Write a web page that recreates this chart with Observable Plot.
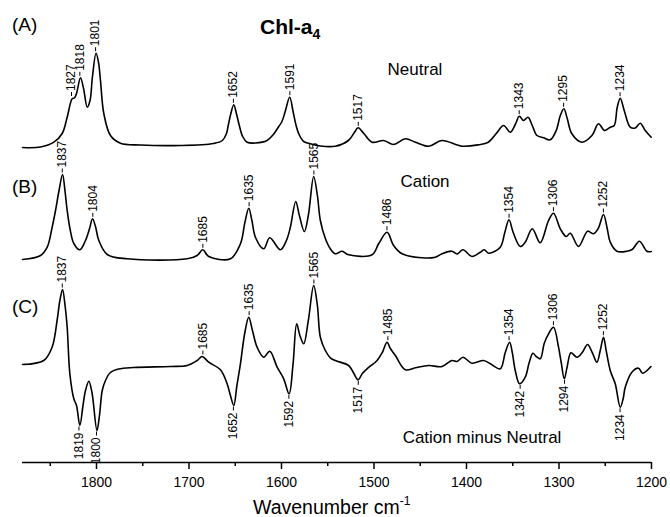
<!DOCTYPE html>
<html><head><meta charset="utf-8">
<script src="https://cdn.jsdelivr.net/npm/d3@7"></script>
<script src="https://cdn.jsdelivr.net/npm/@observablehq/plot@0.6"></script>
<style>body{margin:0;background:#fff} svg{display:block}</style>
</head><body><div id="chart"></div>
<script>
// [wavenumber cm-1, intensity (arb. units)]
const neutral = [[1880,-1],[1860.5,-0.5],[1846.1,4.3],[1837.1,13],[1831.7,29.3],[1826.3,47.7],[1823.8,48.5],[1821.6,53],[1817.3,68.7],[1814,58],[1810,39.3],[1807,46],[1804.4,69.5],[1800.5,93.3],[1797.8,84],[1795.7,66],[1792.1,33],[1784.9,11],[1774.1,3.3],[1752.5,1.5],[1709.2,1],[1673.6,3],[1663.9,6],[1659.5,13],[1657.6,21],[1655,32],[1651.6,41.7],[1648.5,32],[1645.6,21],[1642,10],[1637.2,4.3],[1628.2,3.5],[1615.6,6],[1608.8,12],[1603,20],[1599.5,25],[1596,35],[1591.1,49.3],[1587.5,35],[1584.5,22],[1581,12],[1576,5],[1568.8,2.7],[1558,0.5],[1541.8,0.3],[1527.7,6],[1521.2,14],[1517.2,18.7],[1511.2,13.3],[1502.1,4.3],[1489.6,6],[1478.8,2],[1466.1,7.7],[1455.3,4.3],[1440.9,0.3],[1426.5,6],[1404.9,0.3],[1386.9,1.7],[1376.4,4.3],[1367.8,13],[1359.9,21],[1352.7,14.3],[1347.3,22],[1342.9,30.3],[1338.3,26],[1333.5,29.3],[1328.9,21],[1323.8,11],[1316.7,8.7],[1309.5,6.7],[1303,16],[1298.6,31],[1294.7,37.7],[1291.1,28],[1286.1,12.7],[1275.2,4.3],[1264.4,11],[1257.3,22.7],[1250.8,16],[1244.6,19.3],[1240.3,21],[1237.1,39],[1233.8,48.3],[1229.5,36],[1223,19.3],[1217.6,18.5],[1212.2,23.3],[1206.8,16],[1200.3,9.3]];
const cation = [[1880,0],[1860.5,4],[1853.3,12.3],[1848,32],[1844.3,49],[1840.5,69],[1836.7,85],[1834,68],[1831.7,49],[1828.5,30],[1824.5,16],[1818,9.7],[1811.9,19],[1807.5,31],[1804.3,40.7],[1801.1,33],[1797.5,19],[1788.4,5],[1766.8,0.7],[1702,0.7],[1691.2,4],[1685.1,9.7],[1678.7,3],[1655.2,0.7],[1644.4,15.7],[1639.6,37],[1635.4,51.3],[1632,39],[1628.2,22.3],[1619.2,10.7],[1612.7,21.7],[1601.2,9.7],[1594.7,19],[1590.4,32.3],[1584.6,58],[1580.7,44],[1575.3,28],[1571,44],[1565.2,83],[1561.2,64],[1558,39],[1552.6,21],[1547.2,10.7],[1541.8,5.7],[1534.5,8.3],[1527.4,4.7],[1502.1,4.7],[1495,15.7],[1485.9,27.3],[1478.8,14],[1469.7,5.7],[1448.1,1.7],[1433.7,2.3],[1426.5,5.7],[1415.7,8.3],[1410.3,5.5],[1403.8,9.7],[1394.1,3],[1385.1,7.3],[1380.8,9.7],[1376.1,6.3],[1363.5,12.3],[1358.6,27],[1354.1,39.7],[1349.5,27],[1341.9,13],[1336.5,17.3],[1328.9,30.7],[1320.3,16.7],[1311.3,39],[1305.9,46.3],[1298.6,30.7],[1292.2,23],[1287.8,26.3],[1278.9,13],[1269.1,28.3],[1262.6,25.7],[1257.6,31],[1251.9,45],[1247.9,31],[1244.6,17.3],[1237.4,8.3],[1226.6,8.3],[1220.9,10],[1213,18.3],[1205,8.3],[1200.3,8]];
const difference = [[1880,1],[1857,5],[1848,18.3],[1842.6,45],[1839.6,65],[1836.7,76],[1834,60],[1831.7,38.3],[1828.8,-8.3],[1824.5,-33.3],[1821.6,-40],[1818,-60],[1814.6,-40],[1811.9,-25],[1808.3,-15.7],[1804.9,-27],[1799.5,-65],[1796.8,-50],[1793.8,-25],[1790.3,-15],[1785,-7],[1776,-3.5],[1760,-2],[1720,-1],[1702,0],[1691.2,5],[1685.8,9],[1678.7,3.3],[1666,-4.3],[1658.8,-18.3],[1655.2,-30],[1651.6,-40],[1648.2,-20],[1644.4,1.7],[1639.6,33],[1635.4,48.3],[1631.4,35],[1626.4,18.3],[1619.2,8.3],[1612.7,14.3],[1604.7,-1.7],[1597.6,-13.3],[1591.8,-28.3],[1587.5,1.7],[1583.6,41.7],[1580.1,30],[1576,21.7],[1571,45],[1565.2,80],[1561.2,60],[1558,28.3],[1552.6,15],[1547.2,7.7],[1541.8,5],[1527.4,0],[1522.3,-7],[1517.2,-14.3],[1512.6,-8],[1507.5,-3.3],[1496.7,5],[1491,13],[1485.9,23.3],[1482.3,17],[1476.9,10],[1466.1,-4.3],[1455.3,-2.3],[1440.9,0],[1426.5,-1],[1415.7,5],[1410.3,4],[1403.8,8.3],[1394.1,2.3],[1381.5,5],[1374.3,1.7],[1363.5,-3.3],[1358.1,13],[1353.4,23.3],[1350.5,13],[1347.3,-5],[1342.6,-18.3],[1336.5,-11.7],[1332.2,3],[1328.2,12.3],[1324.6,9],[1320.3,6.7],[1316,22],[1311.3,31.7],[1305.9,38.3],[1300.5,18.3],[1297.6,3],[1294.3,-13.3],[1291.1,-1],[1287.1,12.7],[1280.6,8.3],[1274.9,13],[1269.1,21],[1264.1,13],[1259,3.3],[1255.4,15],[1251.9,28.3],[1249,15],[1244.6,-5],[1239.2,-18.3],[1233.8,-41.7],[1230.6,-33],[1228.4,-21.7],[1221.2,-6.7],[1214,-2.7],[1209.7,-7.7],[1200.6,-1]];

const neutralPeaks = [1827,1818,1801,1652,1591,1517,1343,1295,1234];
const cationPeaks = [1837,1804,1685,1635,1565,1486,1354,1306,1252];
const differencePeaksUp = [1837,1685,1635,1565,1485,1354,1306,1252];
const differencePeaksDown = [1819,1800,1652,1592,1517,1342,1294,1234];

const xTicks = [1800,1700,1600,1500,1400,1300,1200];
const xMinorTicks = [1850,1750,1650,1550,1450,1350,1250];
const panelLetters = ["(A)","(B)","(C)"];
const panelNames = ["Neutral","Cation","Cation minus Neutral"];
const chartTitle = "Chl-a";
const chartTitleSub = "4";
const xLabel = "Wavenumber cm";
const xLabelSup = "-1";

// layout (vertical offsets of stacked traces)
const offsets = [316, 203, 97];
const traces = [neutral, cation, difference];

const lineData = traces.flatMap((t, i) => t.map(([w, v]) => ({w, y: v + offsets[i], s: i})));

function extreme(trace, w, dir) {
  let near = trace.filter(d => Math.abs(d[0] - w) <= 3.5);
  if (!near.length) near = [trace.reduce((a, b) => Math.abs(b[0]-w) < Math.abs(a[0]-w) ? b : a)];
  return dir > 0 ? d3.max(near, d => d[1]) : d3.min(near, d => d[1]);
}
function makeLabels(trace, peaks, i, dir) {
  return peaks.map(w => ({w, v: extreme(trace, w, dir) + offsets[i], dir, text: String(w)}));
}
const upLabels = [
  ...makeLabels(neutral, neutralPeaks, 0, 1),
  ...makeLabels(cation, cationPeaks, 1, 1),
  ...makeLabels(difference, differencePeaksUp, 2, 1)
];
const downLabels = makeLabels(difference, differencePeaksDown, 2, -1);
const allLabels = [...upLabels, ...downLabels];

const font = "'Liberation Sans', Arial, Helvetica, sans-serif";

const plot = Plot.plot({
  width: 670, height: 517,
  marginLeft: 22, marginRight: 19, marginTop: 0, marginBottom: 55,
  style: {fontFamily: font, fontSize: "14px", background: "#fff", color: "#000"},
  x: {domain: [1880, 1200], label: null},
  y: {domain: [0, 462], axis: null},
  marks: [
    Plot.line(lineData, {x: "w", y: "y", z: "s", curve: "catmull-rom", stroke: "#000", strokeWidth: 1.6}),
    Plot.ruleX(allLabels, {x: "w", y1: d => d.v + d.dir * 1.5, y2: d => d.v + d.dir * 5.5, stroke: "#000", strokeWidth: 1}),
    Plot.text(upLabels, {x: "w", y: d => d.v + 7, text: "text", rotate: -90, textAnchor: "start", fontSize: 12, fill: "#000"}),
    Plot.text(downLabels, {x: "w", y: d => d.v - 7, text: "text", rotate: -90, textAnchor: "end", fontSize: 12, fill: "#000"}),
    Plot.ruleY([0], {stroke: "#000", strokeWidth: 1.5}),
    Plot.axisX({ticks: xTicks, tickSize: 7, tickPadding: 8, tickFormat: d => String(d), label: null, strokeWidth: 1.5, fontSize: 14}),
    Plot.axisX({ticks: xMinorTicks, tickSize: 4, tickFormat: () => "", label: null, strokeWidth: 1.5})
  ]
});

const svg = d3.select(plot);
function addText(x, y, txt, size, anchor = "start", weight = "normal") {
  return svg.append("text").attr("x", x).attr("y", y).attr("font-family", font)
    .attr("font-size", size).attr("font-weight", weight).attr("text-anchor", anchor)
    .attr("fill", "#000").text(txt);
}
const letterY = [31, 192.5, 313];
panelLetters.forEach((t, i) => addText(12, letterY[i], t, 19));
addText(415, 75, panelNames[0], 17, "middle");
addText(425, 187, panelNames[1], 17, "middle");
addText(482, 443, panelNames[2], 17, "middle");
const title = addText(260, 34, chartTitle, 21, "start", "bold");
title.append("tspan").attr("font-size", 14).attr("dy", 5).text(chartTitleSub);
const xl = addText(253, 514, xLabel, 19.5);
xl.append("tspan").attr("font-size", 12).attr("dy", -9).text(xLabelSup);

document.getElementById("chart").appendChild(plot);
</script>
</body></html>
